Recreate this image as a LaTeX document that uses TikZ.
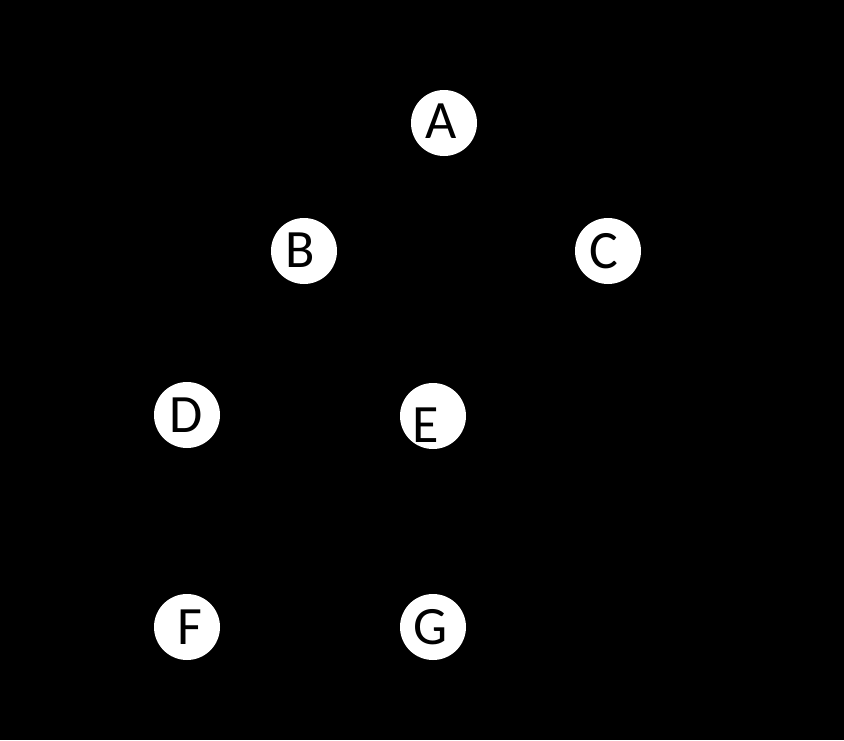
\documentclass[tikz,border=0pt]{standalone}
\usepackage{fontspec}
\setmainfont{Carlito}
\begin{document}
\begin{tikzpicture}[x=1pt,y=-1pt,
  vertex/.style={circle,fill=white,draw=none,minimum size=66pt,inner sep=0pt},
  lbl/.style={font=\fontsize{54}{54}\selectfont,text=black,inner sep=0pt,anchor=center}]
\fill[black] (0,0) rectangle (844,740);
\useasboundingbox (0,0) rectangle (844,740);
\node[vertex] (A) at (444,123) {};
\node[vertex] (B) at (304,251) {};
\node[vertex] (C) at (608,251) {};
\node[vertex] (D) at (187,415) {};
\node[vertex] (E) at (433,416) {};
\node[vertex] (F) at (187,627) {};
\node[vertex] (G) at (433,627) {};
\node[lbl] (tA) at (441,121) {A};
\node[lbl] (tB) at (300,250) {B};
\node[lbl] (tC) at (604,251) {C};
\node[lbl] (tD) at (186,415) {D};
\node[lbl] (tE) at (426,425) {E};
\node[lbl] (tF) at (190,627) {F};
\node[lbl] (tG) at (431,627) {G};
\end{tikzpicture}
\end{document}
